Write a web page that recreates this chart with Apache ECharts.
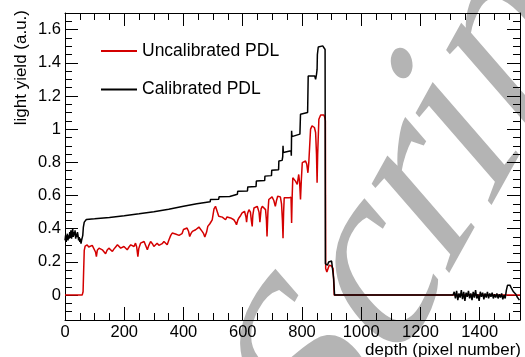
<!DOCTYPE html>
<html>
<head>
<meta charset="utf-8">
<script src="https://cdn.jsdelivr.net/npm/echarts@6/dist/echarts.min.js"></script>
<style>
html, body { margin: 0; padding: 0; background: #fff; }
#chart { width: 525px; height: 357px; }
</style>
</head>
<body>
<div id="chart"></div>
<script>
// Light yield along the depth of the crystal (pixel number), two PDL treatments.
const uncalX = [0,58,61,63,65,68,75,80,86,92,98,103,106,109,115,120,126,132,137,142,148,154,160,165,171,177,182,188,194,199,205,210,216,222,227,233,238,242,246,249,255,261,267,272,278,283,289,295,300,306,311,317,323,328,334,340,345,351,357,362,368,373,379,385,390,395,400,406,412,417,421,425,430,435,441,446,452,457,463,468,472,475,478,482,489,497,503,508,514,519,525,531,537,542,547,553,559,565,570,575,579,583,587,593,598,606,611,613,616,621,626,629,632,634,638,643,649,655,658,662,666,671,677,680,682,685,688,694,699,705,710,714,718,723,727,731,734,736,738,740,748,756,763,765,767,769,774,778,781,784,789,792,795,798,801,806,812,816,820,823,826,829,834,838,842,846,849,851,853,857,863,868,874,877,879,880,884,888,892,900,905,907,909,1536];
const uncalY = [0,0,0.02,0.15,0.27,0.295,0.303,0.29,0.283,0.3,0.293,0.26,0.232,0.27,0.283,0.29,0.273,0.265,0.249,0.27,0.283,0.275,0.263,0.277,0.29,0.303,0.295,0.283,0.29,0.293,0.285,0.273,0.29,0.303,0.3,0.293,0.313,0.29,0.232,0.28,0.313,0.318,0.323,0.3,0.273,0.3,0.323,0.31,0.293,0.305,0.313,0.3,0.293,0.31,0.323,0.315,0.303,0.333,0.36,0.374,0.374,0.368,0.364,0.36,0.354,0.37,0.395,0.405,0.404,0.385,0.353,0.37,0.384,0.39,0.394,0.405,0.41,0.4,0.384,0.37,0.35,0.343,0.38,0.414,0.43,0.454,0.52,0.535,0.528,0.475,0.472,0.47,0.46,0.454,0.471,0.47,0.465,0.458,0.454,0.44,0.424,0.45,0.465,0.48,0.495,0.505,0.47,0.44,0.49,0.515,0.5,0.45,0.414,0.48,0.525,0.53,0.535,0.5,0.44,0.52,0.535,0.528,0.515,0.45,0.353,0.5,0.576,0.586,0.592,0.57,0.535,0.57,0.596,0.594,0.592,0.55,0.45,0.343,0.5,0.586,0.586,0.586,0.59,0.434,0.6,0.707,0.7,0.687,0.675,0.667,0.727,0.68,0.576,0.7,0.798,0.805,0.808,0.79,0.737,0.798,0.9,1.0,1.02,1.02,1.01,0.98,0.85,0.677,0.85,1.06,1.085,1.09,1.085,1.07,1.05,0.16,0.14,0.15,0.18,0.175,0.16,0.08,0,0];

const calX = [0,2,4,6,8,10,12,14,16,18,20,22,24,26,28,30,32,34,36,38,40,42,44,46,48,50,52,54,56,58,60,62,65,68,72,100,150,200,250,300,350,400,445,446,490,491,519,520,556,557,582,583,616,617,645,646,674,675,697,698,721,722,733,735,736,737,763,764,765,766,793,794,795,819,821,843,846,849,851,852,855,860,870,875,878,879,880,886,890,900,904,907,910,1310,1314,1318,1322,1326,1330,1334,1338,1342,1346,1350,1354,1358,1362,1366,1370,1374,1378,1382,1386,1390,1394,1398,1402,1406,1410,1414,1418,1422,1426,1430,1434,1438,1442,1446,1450,1454,1458,1462,1466,1470,1474,1478,1482,1486,1490,1494,1498,1502,1506,1510,1514,1518,1522,1526,1530,1534,1536];
const calY = [0.33,0.36,0.32,0.35,0.37,0.33,0.36,0.34,0.38,0.35,0.39,0.34,0.37,0.4,0.35,0.38,0.36,0.39,0.34,0.37,0.35,0.38,0.36,0.33,0.35,0.32,0.34,0.31,0.33,0.32,0.36,0.41,0.44,0.452,0.456,0.46,0.468,0.478,0.49,0.503,0.518,0.535,0.55,0.56,0.562,0.576,0.578,0.592,0.594,0.606,0.608,0.626,0.628,0.652,0.655,0.687,0.69,0.717,0.72,0.753,0.756,0.808,0.812,0.835,0.9,0.86,0.87,0.84,0.99,0.955,0.97,0.96,1.09,1.1,1.32,1.32,1.3,1.33,1.36,1.45,1.495,1.502,1.502,1.495,1.48,0.19,0.19,0.18,0.2,0.205,0.2,0.1,0,0,0.02,-0.02,0.025,-0.03,0.01,-0.015,0.03,-0.025,0.02,-0.035,0.015,-0.01,0.025,-0.02,0.01,-0.03,0.02,-0.015,0.03,-0.02,0.005,-0.035,0.02,-0.01,0.015,-0.025,0.01,-0.015,0.02,-0.02,0.01,-0.01,0.015,-0.02,0.005,-0.015,0.01,-0.02,0.005,-0.015,0.01,-0.025,0,-0.02,0.03,0.06,0.07,0.06,0.045,0.04,0.02,0.015,0.005,-0.01,-0.02,-0.03,-0.02];

const xTickValues = [0, 200, 400, 600, 800, 1000, 1200, 1400];
const yTickValues = [0, 0.2, 0.4, 0.6, 0.8, 1, 1.2, 1.4, 1.6];
const xRange = [0, 1536];
const yRange = [-0.15, 1.7];

const FONT = '"Liberation Sans", Arial, sans-serif';
const RED = '#d40000';

function zip(xs, ys) { return xs.map((x, i) => [x, ys[i]]); }

// Major ticks (with or without labels) and minor ticks, drawn on all four frame sides.
function majorAxis(pos, range, ticks, withLabels) {
  return {
    type: 'value', position: pos, min: range[0], max: range[1],
    axisLine: { show: true, onZero: false, lineStyle: { color: '#000', width: 1 } },
    axisTick: { show: true, inside: true, length: 13, customValues: ticks, lineStyle: { color: '#000', width: 1 } },
    axisLabel: withLabels
      ? { show: true, customValues: ticks, fontSize: 16.5, fontFamily: FONT, color: '#000', margin: 4,
          formatter: (v) => String(v) }
      : { show: false },
    splitLine: { show: false }
  };
}
function minorAxis(pos, range, step) {
  return {
    type: 'value', position: pos, min: range[0], max: range[1], interval: step,
    axisLine: { show: false, onZero: false },
    axisTick: { show: true, inside: true, length: 7, lineStyle: { color: '#000', width: 1 } },
    axisLabel: { show: false },
    splitLine: { show: false }
  };
}

const chart = echarts.init(document.getElementById('chart'), null, { renderer: 'canvas' });

chart.setOption({
  animation: false,
  backgroundColor: '#fff',
  grid: { left: 65, top: 13, width: 455, height: 307, containLabel: false, outerBoundsMode: 'none' },
  xAxis: [
    majorAxis('bottom', xRange, xTickValues, true),
    minorAxis('bottom', xRange, 50),
    majorAxis('top', xRange, xTickValues, false),
    minorAxis('top', xRange, 50)
  ],
  yAxis: [
    majorAxis('left', yRange, yTickValues, true),
    minorAxis('left', yRange, 0.05),
    majorAxis('right', yRange, yTickValues, false),
    minorAxis('right', yRange, 0.05)
  ],
  legend: {
    orient: 'vertical', left: 101, top: 41, padding: 0,
    itemWidth: 36, itemHeight: 2, itemGap: 18.6, icon: 'rect',
    textStyle: { fontSize: 17.5, lineHeight: 20, color: '#000', fontFamily: FONT },
    data: ['Uncalibrated PDL', 'Calibrated PDL']
  },
  graphic: [
    {
      type: 'text', x: 21, y: 10, rotation: Math.PI / 2,
      style: { text: 'light yield (a.u.)', font: '17px ' + FONT, fill: '#000',
               align: 'right', textAlign: 'right', verticalAlign: 'middle', textVerticalAlign: 'middle' }
    },
    {
      type: 'text', x: 521, y: 350,
      style: { text: 'depth (pixel number)', font: '17px ' + FONT, fill: '#000',
               align: 'right', textAlign: 'right', verticalAlign: 'middle', textVerticalAlign: 'middle' }
    }
  ],
  series: [
    {
      type: 'line', name: 'Uncalibrated PDL', xAxisIndex: 0, yAxisIndex: 0,
      data: zip(uncalX, uncalY), showSymbol: false, symbol: 'none',
      lineStyle: { color: RED, width: 1.5 }, itemStyle: { color: RED }
    },
    {
      type: 'line', name: 'Calibrated PDL', xAxisIndex: 0, yAxisIndex: 0,
      data: zip(calX, calY), showSymbol: false, symbol: 'none',
      lineStyle: { color: '#000', width: 1.5 }, itemStyle: { color: '#000' }
    }
  ]
});

// Large grey slanted lettering behind the plot, one glyph at a time.
const stampLetters = [
  ['S', 318, 381], ['c', 376, 274], ['r', 422, 191], ['i', 461, 129], ['p', 506, 40]
];
stampLetters.forEach(function (g) {
  chart.getZr().add(new echarts.graphic.Text({
    x: g[1], y: g[2], rotation: 1.065, skewX: -0.35, z: -10, silent: true,
    style: { text: g[0], font: '242px "Liberation Serif", "Times New Roman", serif',
             fill: '#b4b4b4', align: 'center', verticalAlign: 'middle' }
  }));
});
</script>
</body>
</html>
